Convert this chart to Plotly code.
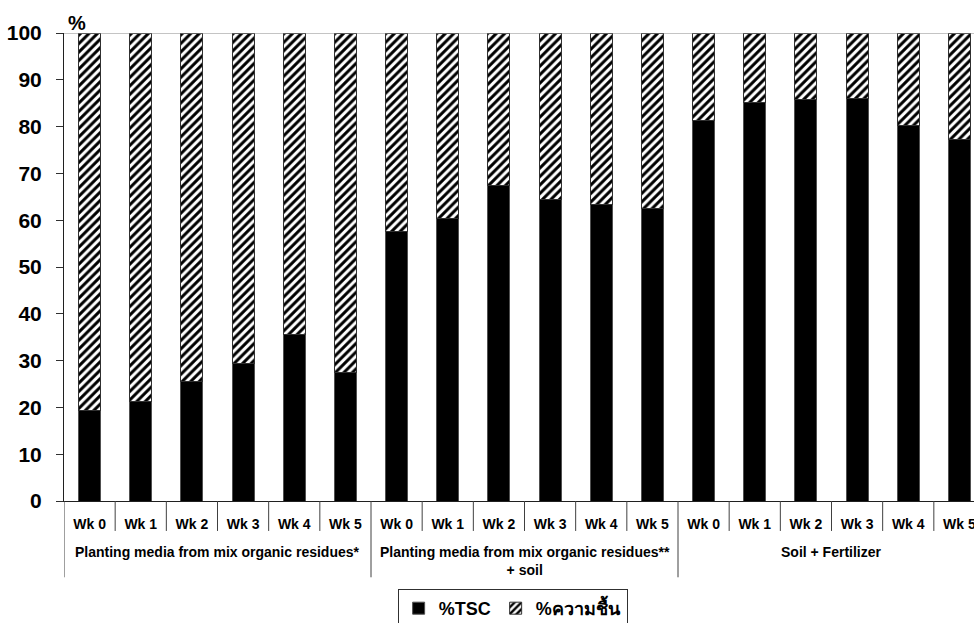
import plotly.graph_objects as go

# Total solid content (%) per week for each planting medium
weeks = ["Wk 0", "Wk 1", "Wk 2", "Wk 3", "Wk 4", "Wk 5"]
groups = [
    "Planting media from mix organic residues*",
    "Planting media from mix organic residues**<br>+ soil",
    "Soil + Fertilizer",
]
tsc_mix = [19.4, 21.3, 25.6, 29.4, 35.5, 27.5]
tsc_mix_soil = [57.6, 60.4, 67.4, 64.5, 63.4, 62.4]
tsc_soil_fert = [81.2, 85.2, 85.7, 86.1, 80.3, 77.3]

moist_mix = [80.6, 78.7, 74.4, 70.6, 64.5, 72.5]
moist_mix_soil = [42.4, 39.6, 32.6, 35.5, 36.6, 37.6]
moist_soil_fert = [18.8, 14.8, 14.3, 13.9, 19.7, 22.7]

y_ticks = list(range(0, 101, 10))

tsc = tsc_mix + tsc_mix_soil + tsc_soil_fert
moist = moist_mix + moist_mix_soil + moist_soil_fert
labels = weeks * len(groups)
xpos = list(range(len(labels)))

FONT = "Liberation Sans, Arial, sans-serif"

fig = go.Figure()
fig.add_trace(go.Bar(
    x=xpos, y=tsc, name="%TSC", width=0.43,
    marker=dict(color="black", line=dict(color="#505050", width=1)),
))
fig.add_trace(go.Bar(
    x=xpos, y=moist, name="%ความชื้น", width=0.43,
    marker=dict(
        color="white",
        line=dict(color="#303030", width=1),
        pattern=dict(shape="/", fgcolor="black", bgcolor="white",
                     size=6, solidity=0.5, fillmode="replace"),
    ),
))

shapes = []
# top border line at 100
shapes.append(dict(type="line", xref="paper", yref="y", x0=0, x1=1, y0=100, y1=100,
                   line=dict(color="#8a8a8a", width=1)))
# category separators below the axis
n = len(labels)
for i in range(n + 1):
    b = i - 0.5
    is_group = (i % len(weeks) == 0)
    shapes.append(dict(type="line", xref="x", yref="paper", x0=b, x1=b,
                       y0=0, y1=-0.163 if is_group else -0.064,
                       line=dict(color="#404040", width=1)))

annotations = []
for g, name in enumerate(groups):
    center = g * len(weeks) + (len(weeks) - 1) / 2
    annotations.append(dict(
        x=center, xref="x", y=-0.088, yref="paper", yanchor="top",
        text=f"<b>{name}</b>", showarrow=False,
        font=dict(family=FONT, size=14, color="black"),
    ))
annotations.append(dict(
    x=0.002, xref="paper", y=1.0, yref="paper", xanchor="left", yanchor="bottom",
    text="<b>%</b>", showarrow=False, yshift=-3,
    font=dict(family=FONT, size=20, color="black"),
))

fig.update_layout(
    barmode="stack",
    width=974, height=623,
    margin=dict(l=64, r=0, t=33, b=121.5, autoexpand=False),
    paper_bgcolor="white", plot_bgcolor="white",
    font=dict(family=FONT, color="black"),
    shapes=shapes,
    annotations=annotations,
    showlegend=True,
    legend=dict(
        orientation="h", x=0.493, xanchor="center", y=-0.188, yanchor="top",
        bordercolor="#303030", borderwidth=1, traceorder="normal",
        font=dict(family=FONT, size=18, color="black", weight="bold"),
        itemwidth=30, tracegroupgap=0,
    ),
)
fig.update_xaxes(
    range=[-0.5, 17.285],
    tickmode="array", tickvals=xpos, ticktext=[f"<b>{t}</b>" for t in labels],
    tickfont=dict(family=FONT, size=14, color="black"),
    ticks="", showgrid=False, zeroline=False,
    showline=True, linecolor="#202020", linewidth=1,
    ticklabelstandoff=10, ticklabeloverflow="allow",
)
fig.update_yaxes(
    range=[0, 100], tickmode="array", tickvals=y_ticks,
    ticktext=[f"<b>{v}</b>" for v in y_ticks],
    tickfont=dict(family=FONT, size=21, color="black"),
    ticks="outside", ticklen=7, tickcolor="#303030",
    showgrid=False, zeroline=False,
    showline=True, linecolor="#202020", linewidth=1,
    ticklabelstandoff=10,
)

fig.write_html("out.html")
